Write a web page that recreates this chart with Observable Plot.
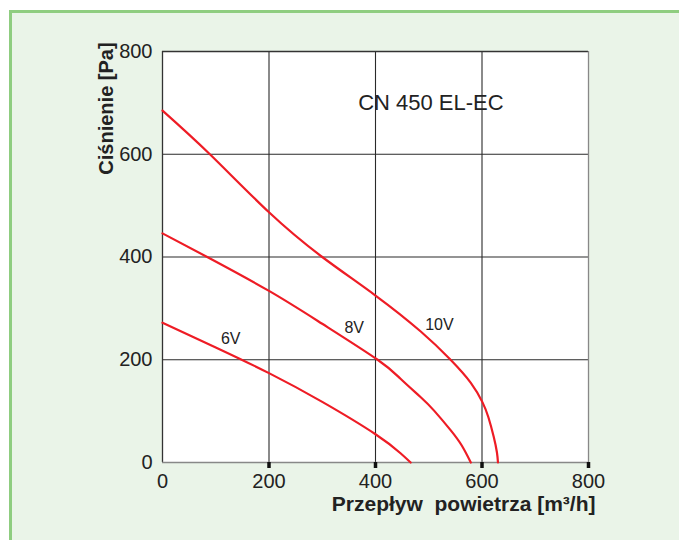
<!DOCTYPE html>
<html>
<head>
<meta charset="utf-8">
<script src="https://cdn.jsdelivr.net/npm/d3@7"></script>
<script src="https://cdn.jsdelivr.net/npm/@observablehq/plot@0.6"></script>
<style>
  html, body { margin: 0; padding: 0; background: #ffffff; width: 679px; height: 540px; overflow: hidden; }
  #panel { position: absolute; left: 9px; top: 10px; width: 700px; height: 560px;
           background: #eaf4e8; border-left: 3px solid #8fcd80; border-top: 3px solid #8fcd80; }
  #chart { position: absolute; left: 0; top: 0; }
</style>
</head>
<body>
<div id="panel"></div>
<div id="chart"></div>
<script>
// Axis ticks
const xTicks = [0, 200, 400, 600, 800];
const yTicks = [0, 200, 400, 600, 800];

// Series: flow [m3/h] and pressure [Pa]
const flow10V = [0, 89, 200, 300, 400, 485, 541, 579, 601, 612, 622, 628, 630];
const pres10V = [685, 600, 487, 400, 325, 255, 200, 155, 117, 88, 50, 20, 0];
const flow8V = [0, 84, 200, 300, 404, 447, 485, 510, 541, 562, 579];
const pres8V = [446, 400, 334, 270, 200, 163, 127, 101, 63, 33, 0];
const flow6V = [0, 100, 200, 300, 400, 447, 466];
const pres6V = [272, 224, 174, 118, 55, 18, 0];

// Curve labels
const labelNames = ["6V", "8V", "10V"];
const labelX = [128, 360, 520];
const labelY = [240, 263, 268];

const title = "CN 450 EL-EC";
const titleX = 504, titleY = 699;
const xLabel = "Przepływ\u00a0\u00a0powietrza [m³/h]";
const yLabel = "Ciśnienie [Pa]";
const yLabelX = -105, yLabelY = 689;

const toRows = (fx, py, name) => fx.map((f, i) => ({flow: f, pres: py[i], series: name}));
const rows = [
  ...toRows(flow6V, pres6V, "6V"),
  ...toRows(flow8V, pres8V, "8V"),
  ...toRows(flow10V, pres10V, "10V")
];
const labels = labelNames.map((n, i) => ({name: n, x: labelX[i], y: labelY[i]}));

const red = "#ee1c25";
const plot = Plot.plot({
  width: 679,
  height: 540,
  marginLeft: 162,
  marginRight: 91,
  marginTop: 51,
  marginBottom: 78,
  style: { fontFamily: "Liberation Sans, Arial, sans-serif", background: "transparent", overflow: "visible" },
  x: { domain: [0, 800] },
  y: { domain: [0, 800] },
  marks: [
    Plot.frame({ fill: "white", stroke: "none" }),
    Plot.gridX({ ticks: [200, 400, 600], stroke: "#2a2a2a", strokeOpacity: 1, strokeWidth: 1.1 }),
    Plot.gridY({ ticks: [200, 400, 600], stroke: "#2a2a2a", strokeOpacity: 1, strokeWidth: 1.1 }),
    Plot.ruleX([0], { stroke: "#333", strokeWidth: 1.3 }),
    Plot.ruleY([800], { stroke: "#333", strokeWidth: 1.3 }),
    Plot.ruleX([800], { stroke: "#888", strokeWidth: 1.3 }),
    Plot.ruleY([0], { stroke: "#888", strokeWidth: 1.3 }),
    Plot.axisX({ ticks: [200, 400, 600, 800], tickSize: 6, strokeWidth: 3.5, stroke: "#111", text: null, label: null }),
    Plot.axisX({ ticks: xTicks, tickSize: 0, tickPadding: 11, fontSize: 20, fill: "#222", label: null }),
    Plot.axisY({ ticks: yTicks, tickSize: 0, tickPadding: 10, fontSize: 20, fill: "#222", label: null }),
    Plot.line(rows, { x: "flow", y: "pres", z: "series", stroke: red, strokeWidth: 2.2, curve: "natural" }),
    Plot.text(labels, { x: "x", y: "y", text: "name", fontSize: 16, fill: "#222" }),
    Plot.text([title], { x: titleX, y: titleY, text: d => d, fontSize: 22, fill: "#222" }),
    Plot.text([xLabel], { frameAnchor: "bottom-right", text: d => d, dx: 7, dy: 48, fontSize: 21, fontWeight: "bold", fill: "#222", textAnchor: "end" }),
    Plot.text([yLabel], { x: yLabelX, y: yLabelY, text: d => d, rotate: -90, fontSize: 20, fontWeight: "bold", fill: "#222" })
  ]
});
document.getElementById("chart").appendChild(plot);
</script>
</body>
</html>
